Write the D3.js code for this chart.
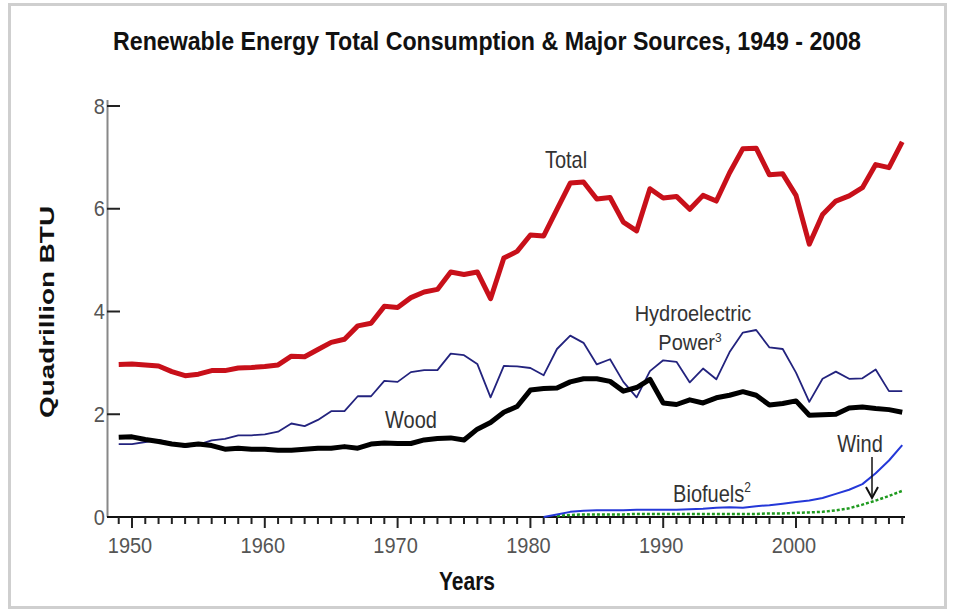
<!DOCTYPE html>
<html><head><meta charset="utf-8">
<script src="https://cdn.jsdelivr.net/npm/d3@7/dist/d3.min.js"></script>
<style>body{margin:0;background:#fff}svg{display:block}</style>
</head><body>
<svg id="c" width="955" height="614"></svg>
<script>
const years = d3.range(1949, 2009);
const total = [2.97,2.98,2.96,2.94,2.83,2.75,2.78,2.85,2.85,2.90,2.91,2.93,2.96,3.13,3.12,3.26,3.40,3.46,3.72,3.77,4.10,4.08,4.27,4.38,4.43,4.77,4.72,4.77,4.25,5.04,5.17,5.49,5.47,5.99,6.50,6.52,6.19,6.22,5.74,5.57,6.39,6.21,6.24,5.99,6.26,6.15,6.70,7.17,7.18,6.66,6.68,6.26,5.31,5.89,6.15,6.25,6.41,6.86,6.80,7.30];
const hydro = [1.42,1.42,1.46,1.50,1.44,1.36,1.41,1.49,1.52,1.59,1.59,1.61,1.66,1.82,1.77,1.89,2.06,2.06,2.35,2.35,2.65,2.63,2.82,2.86,2.86,3.18,3.15,2.98,2.33,2.94,2.93,2.90,2.76,3.27,3.53,3.39,2.97,3.07,2.63,2.33,2.84,3.05,3.02,2.62,2.89,2.68,3.21,3.59,3.64,3.30,3.27,2.81,2.24,2.69,2.83,2.69,2.70,2.87,2.45,2.45];
const wood = [1.55,1.56,1.51,1.47,1.42,1.39,1.42,1.39,1.32,1.34,1.32,1.32,1.30,1.30,1.32,1.34,1.34,1.37,1.34,1.42,1.44,1.43,1.43,1.50,1.53,1.54,1.50,1.71,1.84,2.04,2.15,2.47,2.50,2.51,2.63,2.69,2.69,2.64,2.45,2.52,2.68,2.22,2.19,2.28,2.22,2.32,2.37,2.44,2.37,2.18,2.21,2.26,1.98,1.99,2.00,2.12,2.14,2.11,2.09,2.04];
const blueYears = d3.range(1981, 2009);
const blueLow = [0.00,0.05,0.10,0.12,0.13,0.13,0.13,0.14,0.14,0.14,0.14,0.15,0.16,0.18,0.19,0.18,0.21,0.23,0.26,0.29,0.32,0.37,0.45,0.53,0.64,0.85,1.10,1.40];
const greenYears = d3.range(1982, 2009);
const greenLow = [0.02,0.04,0.05,0.05,0.05,0.05,0.06,0.06,0.06,0.06,0.06,0.06,0.06,0.06,0.06,0.06,0.07,0.07,0.08,0.09,0.10,0.13,0.17,0.24,0.32,0.41,0.51];
const xTickLabels = [1950,1960,1970,1980,1990,2000];
const yTickLabels = [0,2,4,6,8];

const svg = d3.select('#c');
svg.append('rect').attr('x',0).attr('y',0).attr('width',955).attr('height',614).attr('fill','#fff');
svg.append('rect').attr('x',9.5).attr('y',4.5).attr('width',936).attr('height',603)
  .attr('fill','none').attr('stroke','#cfcfcf').attr('stroke-width',3);

const x = d3.scaleLinear().domain([1950,2000]).range([132,796]);
const y = d3.scaleLinear().domain([0,8]).range([517,106]);

function stext(px, py, str, opts){
  const g = svg.append('g').attr('transform',`translate(${px},${py}) scale(1,${opts.sy||1.2})`);
  const t = g.append('text').attr('x',0).attr('y',0)
    .attr('font-family','"Liberation Sans", Arial, sans-serif')
    .attr('font-size',opts.size||20).attr('font-weight',opts.weight||'normal')
    .attr('fill',opts.fill||'#333').attr('text-anchor',opts.anchor||'middle');
  if(opts.len){ t.attr('textLength',opts.len).attr('lengthAdjust','spacingAndGlyphs'); }
  return t.text(str);
}

// Title
stext(487, 50, 'Renewable Energy Total Consumption & Major Sources, 1949 - 2008', {size:20.5, weight:'bold', fill:'#111', len:748, sy:1.25});

// Y axis
svg.append('line').attr('x1',107.5).attr('x2',107.5).attr('y1',100).attr('y2',517)
  .attr('stroke','#888').attr('stroke-width',2);
svg.append('g').selectAll('line').data(yTickLabels).join('line')
  .attr('x1',107).attr('x2',120).attr('y1',d=>y(d)).attr('y2',d=>y(d))
  .attr('stroke','#222').attr('stroke-width',2);
yTickLabels.forEach(v=>stext(105, y(v)+7.5, String(v), {size:20, anchor:'end', fill:'#555', sy:1.1}));

// X axis
svg.append('line').attr('x1',107).attr('x2',905).attr('y1',517).attr('y2',517)
  .attr('stroke','#111').attr('stroke-width',2.2);
svg.append('g').selectAll('line').data(years).join('line')
  .attr('x1',d=>x(d)).attr('x2',d=>x(d)).attr('y1',517)
  .attr('y2',d=> d%10===0 ? 528 : 524)
  .attr('stroke','#222').attr('stroke-width',2);
xTickLabels.forEach(v=>stext(x(v)-2, 553, String(v), {size:20, fill:'#555', sy:1.12}));

// Axis titles
stext(467, 590, 'Years', {size:21, weight:'bold', fill:'#111', sy:1.25});
svg.append('text').attr('transform','translate(54,312) rotate(-90)')
  .attr('text-anchor','middle').attr('font-family','"Liberation Sans", Arial, sans-serif')
  .attr('font-size',20).attr('font-weight','bold').attr('fill','#111')
  .attr('textLength',212).attr('lengthAdjust','spacingAndGlyphs').text('Quadrillion BTU');

// Lines
const line = d3.line().x(d=>x(d[0])).y(d=>y(d[1]));
const z = (xs, vs) => xs.map((v,i)=>[v, vs[i]]);
svg.append('path').datum(z(greenYears, greenLow)).attr('d',line).attr('fill','none')
  .attr('stroke','#1f9a1f').attr('stroke-width',2.5).attr('stroke-dasharray','3,2');
svg.append('path').datum(z(blueYears, blueLow)).attr('d',line).attr('fill','none')
  .attr('stroke','#2438d8').attr('stroke-width',2).attr('stroke-linejoin','round');
svg.append('path').datum(z(years, hydro)).attr('d',line).attr('fill','none')
  .attr('stroke','#23237e').attr('stroke-width',1.8).attr('stroke-linejoin','round');
svg.append('path').datum(z(years, wood)).attr('d',line).attr('fill','none')
  .attr('stroke','#000').attr('stroke-width',5).attr('stroke-linejoin','round');
svg.append('path').datum(z(years, total)).attr('d',line).attr('fill','none')
  .attr('stroke','#c8101a').attr('stroke-width',5).attr('stroke-linejoin','round');

// Annotations
stext(566, 168, 'Total', {size:20});
stext(693, 321, 'Hydroelectric', {size:20, sy:1.1});
const pw = stext(690, 350, 'Power', {size:20, sy:1.1});
pw.append('tspan').attr('font-size',12).attr('dy',-7).text('3');
stext(411, 428, 'Wood', {size:20});
const bf = stext(712, 502, 'Biofuels', {size:20});
bf.append('tspan').attr('font-size',12).attr('dy',-8).text('2');
stext(860, 452, 'Wind', {size:20});
svg.append('line').attr('x1',872).attr('x2',872).attr('y1',457).attr('y2',497)
  .attr('stroke','#111').attr('stroke-width',1.5);
svg.append('path').attr('d','M866,487 L872,498 L878,487').attr('fill','none')
  .attr('stroke','#111').attr('stroke-width',2);
</script>
</body></html>
